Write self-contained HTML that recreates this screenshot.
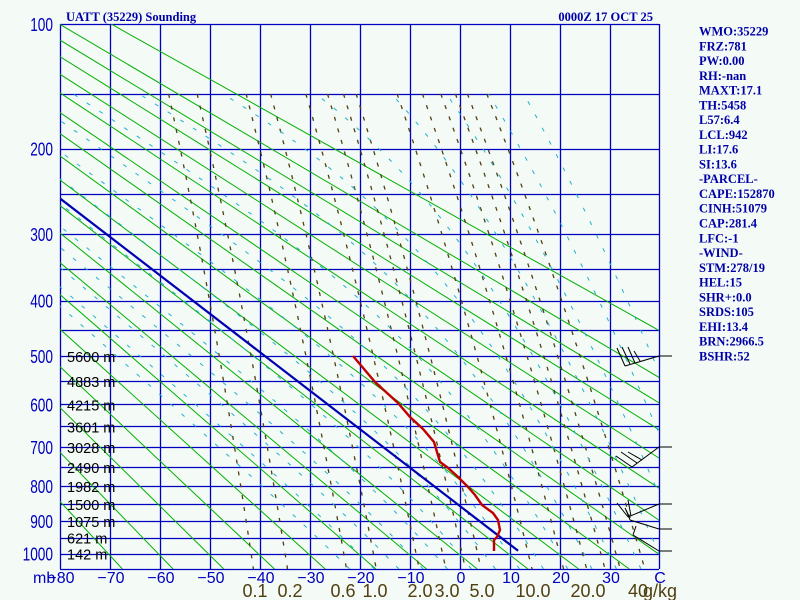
<!DOCTYPE html>
<html><head><meta charset="utf-8"><style>
html,body{margin:0;padding:0;background:#f4faf6;}
svg{display:block;}
.t{font-family:"Liberation Serif",serif;font-weight:bold;font-size:12.5px;fill:#0000a8;}
.pl{font-family:"Liberation Sans",sans-serif;font-size:18px;fill:#0000c0;}
.tl{font-family:"Liberation Sans",sans-serif;font-size:16px;fill:#0000c0;}
.hl{font-family:"Liberation Sans",sans-serif;font-size:14.5px;fill:#000;}
.ml{font-family:"Liberation Sans",sans-serif;font-size:18px;fill:#504010;}
</style></head><body>
<svg id="s" width="800" height="600" xmlns="http://www.w3.org/2000/svg">
<rect width="800" height="600" fill="#f4faf6"/>
<defs><clipPath id="c"><rect x="60" y="24" width="599" height="545"/></clipPath></defs>
<g id="grid"></g>
<g id="lines" clip-path="url(#c)"></g>
<g id="snd"></g>
<text class="t" x="66" y="21">UATT (35229) Sounding</text>
<text class="t" x="653" y="21" text-anchor="end">0000Z 17 OCT 25</text>
<g id="side"></g>
<g id="labels"></g>
<text class="tl" x="33" y="583">mb</text>
<text class="ml" x="628" y="597">40</text>
<text class="ml" x="643" y="597">g/kg</text>
</svg>
<script>
var NS="http://www.w3.org/2000/svg";
function Y(p){return 24+152.7*(Math.pow(p,0.2857)-3.7275);}
function X(t){return 459+5*t;}
function el(g,tag,a,txt){var e=document.createElementNS(NS,tag);for(var k in a)e.setAttribute(k,a[k]);if(txt!==undefined)e.textContent=txt;document.getElementById(g).appendChild(e);return e;}
function pl(g,pts,a){a.points=pts.map(function(q){return q[0].toFixed(1)+","+q[1].toFixed(1)}).join(" ");a.fill="none";return el(g,"polyline",a);}
// grid
for(var p=100;p<=1050;p+=50){var y=Math.round(Y(p))+0.5;el("grid","line",{x1:60,x2:659,y1:y,y2:y,stroke:"#0000c0","stroke-width":1.3});}
for(var i=0;i<=12;i++){var x=Math.min(60+50*i,659)+0.5;el("grid","line",{x1:x,x2:x,y1:24,y2:569,stroke:"#0000c0","stroke-width":1.3});}
// dry adiabats
var th=[];for(var t=203;t<=373;t+=10)th.push(t);th.push(393);
th.forEach(function(T){var a=[];[100,1050].forEach(function(p){a.push([X(T*Math.pow(p/1000,0.2857)-273.15),Y(p)]);});pl("lines",a,{stroke:"#00b000","stroke-width":1});});
// mixing ratio
[0.1,0.2,0.6,1,2,3,4,5,10,15,20,25,30,40].forEach(function(w){var a=[];for(var p=150;p<=1050;p+=10){var e=w*p/(622+w);var L=Math.log(e/6.112);var T=243.5*L/(17.67-L);a.push([X(T),Y(p)]);}pl("lines",a,{stroke:"#504010","stroke-width":1.3,"stroke-dasharray":"4 8"});});
// moist adiabats
function es(T){return 6.112*Math.exp(17.67*T/(T+243.5));}
function dTdp(T,p){var Tk=T+273.15;var e=es(T);var rs=0.622*e/(p-e);return (287*Tk+2.5e6*rs)/(p*(1004+2.5e6*2.5e6*rs*0.622/(287*Tk*Tk)));}
for(var T0=-25;T0<=55;T0+=5){
 var Td=T0;for(var q=1000;q<1050;q+=5){Td+=dTdp(Td,q)*5;}
 var pts=[[X(Td),Y(1050)]];for(var T=T0,p=1000;p>=150;p-=5){pts.push([X(T),Y(p)]);T-=dTdp(T,p)*5;}
 pl("lines",pts,{stroke:"#20b0d0","stroke-width":1,"stroke-dasharray":"4 11"});}
// pressure labels
for(var p=100;p<=1000;p+=100){var s=String(p);el("labels","text",{class:"pl",x:53,y:Y(p)+7,"text-anchor":"end",textLength:s.length*7.6,lengthAdjust:"spacingAndGlyphs"},s);}
// heights
var hs=[[500,"5600 m"],[550,"4883 m"],[600,"4215 m"],[650,"3601 m"],[700,"3028 m"],[750,"2490 m"],[800,"1982 m"],[850,"1500 m"],[900,"1075 m"],[950,"621 m"],[1000,"142 m"]];
hs.forEach(function(h){el("labels","text",{class:"hl",x:67,y:Y(h[0])+6},h[1]);});
// temp labels
for(var i=0;i<12;i++){var v=-80+10*i;var s=v<0?"\u2212"+(-v):String(v);el("labels","text",{class:"tl",x:61+50*i,y:583,"text-anchor":"middle"},s);}
el("labels","text",{class:"tl",x:660,y:583,"text-anchor":"middle"},"C");
[[255,"0.1"],[290,"0.2"],[343,"0.6"],[375,"1.0"],[420,"2.0"],[447,"3.0"],[482,"5.0"],[533,"10.0"],[588,"20.0"]].forEach(function(m){el("labels","text",{class:"ml",x:m[0],y:597,"text-anchor":"middle"},m[1]);});
// side
var st=["WMO:35229","FRZ:781","PW:0.00","RH:-nan","MAXT:17.1","TH:5458","L57:6.4","LCL:942","LI:17.6","SI:13.6","-PARCEL-","CAPE:152870","CINH:51079","CAP:281.4","LFC:-1","-WIND-","STM:278/19","HEL:15","SHR+:0.0","SRDS:105","EHI:13.4","BRN:2966.5","BSHR:52"];
st.forEach(function(s,i){el("side","text",{class:"t",x:699,y:35.5+i*14.77},s);});
// blue parcel (dry adiabat)
var a=[];[991,100].forEach(function(p){a.push([X(285.7*Math.pow(p/1000,0.2857)-273.15),Y(p)]);});
pl("lines",a,{stroke:"#0000b0","stroke-width":2.2});
// red temperature
pl("snd",[[353,356],[375,382],[398,403],[410,417],[423,429],[434,442],[437,452],[440,462],[447,467],[457,476],[468,487],[475,495],[482,505],[493,513],[498,520],[500,530],[497,537],[494,540],[494,551]],{stroke:"#c00000","stroke-width":2.4});
// wind barbs
var wb=[[659,356,625,366],[625,366,617,348],[630,364,622,347],[635,363,628,347],[640,361,634,351],
[659,447,632,467],[632,467,616,456],[637,463,621,452],[642,460,628,452],
[659,504,628,517],[628,517,617,503],[631,516,628,500],[629,516,625,508],
[659,529,630,520],[630,520,626,510],
[659,551,633,535],[633,535,636,526]];
wb.forEach(function(l){el("snd","line",{x1:l[0],y1:l[1],x2:l[2],y2:l[3],stroke:"#000","stroke-width":1});});
[356,447,504,529,551].forEach(function(y){el("snd","line",{x1:659,x2:672,y1:y,y2:y,stroke:"#000","stroke-width":1});});
</script>
</body></html>
